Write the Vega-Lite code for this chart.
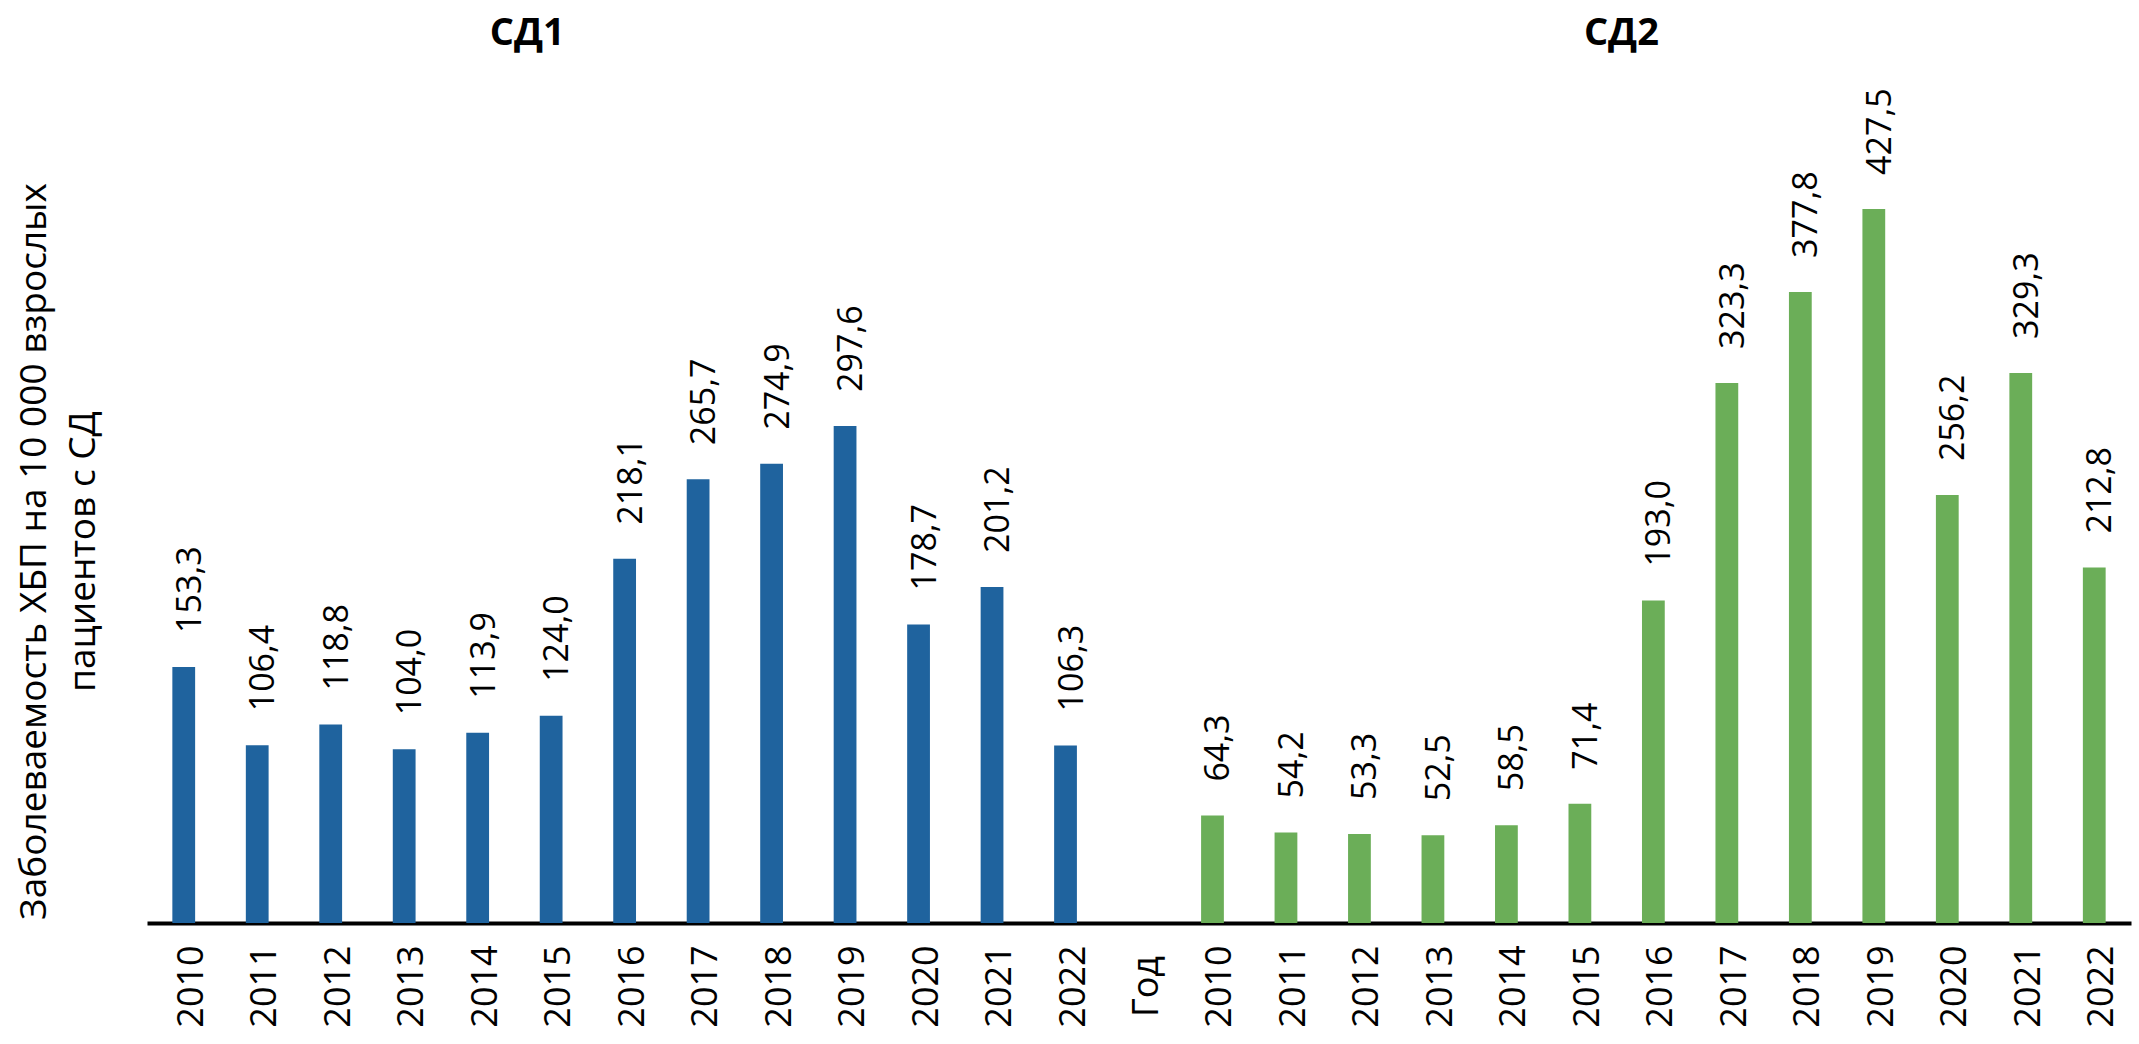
{
  "$schema": "https://vega.github.io/schema/vega-lite/v6.json",
  "autosize": {"type": "none"},
  "padding": {"left": 147, "top": 21, "right": 8, "bottom": 121},
  "width": 1984,
  "height": 902,
  "config": {
    "view": {"stroke": null},
    "font": "Open Sans",
    "locale": {"number": {"decimal": ",", "thousands": " ", "grouping": [3], "currency": ["", ""]}}
  },
  "datasets": {
    "bars": [
      {"cat": "СД1 2010", "group": "СД1", "value": 153.3},
      {"cat": "СД1 2011", "group": "СД1", "value": 106.4},
      {"cat": "СД1 2012", "group": "СД1", "value": 118.8},
      {"cat": "СД1 2013", "group": "СД1", "value": 104.0},
      {"cat": "СД1 2014", "group": "СД1", "value": 113.9},
      {"cat": "СД1 2015", "group": "СД1", "value": 124.0},
      {"cat": "СД1 2016", "group": "СД1", "value": 218.1},
      {"cat": "СД1 2017", "group": "СД1", "value": 265.7},
      {"cat": "СД1 2018", "group": "СД1", "value": 274.9},
      {"cat": "СД1 2019", "group": "СД1", "value": 297.6},
      {"cat": "СД1 2020", "group": "СД1", "value": 178.7},
      {"cat": "СД1 2021", "group": "СД1", "value": 201.2},
      {"cat": "СД1 2022", "group": "СД1", "value": 106.3},
      {"cat": "СД2 2010", "group": "СД2", "value": 64.3},
      {"cat": "СД2 2011", "group": "СД2", "value": 54.2},
      {"cat": "СД2 2012", "group": "СД2", "value": 53.3},
      {"cat": "СД2 2013", "group": "СД2", "value": 52.5},
      {"cat": "СД2 2014", "group": "СД2", "value": 58.5},
      {"cat": "СД2 2015", "group": "СД2", "value": 71.4},
      {"cat": "СД2 2016", "group": "СД2", "value": 193.0},
      {"cat": "СД2 2017", "group": "СД2", "value": 323.3},
      {"cat": "СД2 2018", "group": "СД2", "value": 377.8},
      {"cat": "СД2 2019", "group": "СД2", "value": 427.5},
      {"cat": "СД2 2020", "group": "СД2", "value": 256.2},
      {"cat": "СД2 2021", "group": "СД2", "value": 329.3},
      {"cat": "СД2 2022", "group": "СД2", "value": 212.8}
    ]
  },
  "encoding": {
    "x": {
      "field": "cat",
      "type": "nominal",
      "scale": {
        "domain": ["СД1 2010","СД1 2011","СД1 2012","СД1 2013","СД1 2014","СД1 2015","СД1 2016","СД1 2017","СД1 2018","СД1 2019","СД1 2020","СД1 2021","СД1 2022","Год","СД2 2010","СД2 2011","СД2 2012","СД2 2013","СД2 2014","СД2 2015","СД2 2016","СД2 2017","СД2 2018","СД2 2019","СД2 2020","СД2 2021","СД2 2022"],
        "paddingInner": 0.69,
        "paddingOuter": 0.345
      },
      "axis": {
        "title": null,
        "labelExpr": "slice(datum.label, -4)",
        "labelAngle": -90,
        "labelAlign": "center",
        "labelBaseline": "middle",
        "labelPadding": 63,
        "labelOffset": 8,
        "labelFontSize": 36,
        "labelFont": "Open Sans",
        "labelColor": "#000000",
        "labelOverlap": false,
        "ticks": false,
        "tickSize": 0,
        "domainColor": "#000000",
        "domainWidth": 4,
        "grid": false
      }
    },
    "y": {
      "field": "value",
      "type": "quantitative",
      "scale": {"domain": [0, 540], "nice": false, "zero": true},
      "axis": {
        "title": ["Заболеваемость ХБП на 10 000 взрослых", "пациентов с СД"],
        "titleFont": "Open Sans",
        "titleFontSize": 37,
        "titleFontWeight": "normal",
        "titleColor": "#000000",
        "titleAngle": -90,
        "titleAlign": "center",
        "titleBaseline": "alphabetic",
        "titleLineHeight": 49,
        "titleX": -102,
        "titleY": 530,
        "domain": false,
        "ticks": false,
        "labels": false,
        "grid": false
      }
    }
  },
  "layer": [
    {
      "data": {"name": "bars"},
      "mark": {"type": "bar"},
      "encoding": {
        "color": {
          "field": "group",
          "type": "nominal",
          "scale": {"domain": ["СД1", "СД2"], "range": ["#1F639E", "#6BAE58"]},
          "legend": null
        }
      }
    },
    {
      "data": {"name": "bars"},
      "mark": {
        "type": "text",
        "angle": 270,
        "align": "left",
        "baseline": "middle",
        "dx": 34,
        "dy": 7,
        "font": "Open Sans",
        "fontSize": 34,
        "color": "#000000"
      },
      "encoding": {
        "text": {"field": "value", "type": "quantitative", "format": ".1f"}
      }
    },
    {
      "data": {"values": [{"cat": "СД1 2015", "name": "СД1", "pos": 532}]},
      "mark": {"type": "text", "font": "Open Sans", "fontWeight": "bold", "fontSize": 38, "baseline": "middle", "align": "center", "dx": -24, "color": "#000000"},
      "encoding": {
        "y": {"field": "pos", "type": "quantitative"},
        "text": {"field": "name"}
      }
    },
    {
      "data": {"values": [{"cat": "СД2 2016", "name": "СД2", "pos": 532}]},
      "mark": {"type": "text", "font": "Open Sans", "fontWeight": "bold", "fontSize": 38, "baseline": "middle", "align": "center", "dx": -32, "color": "#000000"},
      "encoding": {
        "y": {"field": "pos", "type": "quantitative"},
        "text": {"field": "name"}
      }
    }
  ]
}
